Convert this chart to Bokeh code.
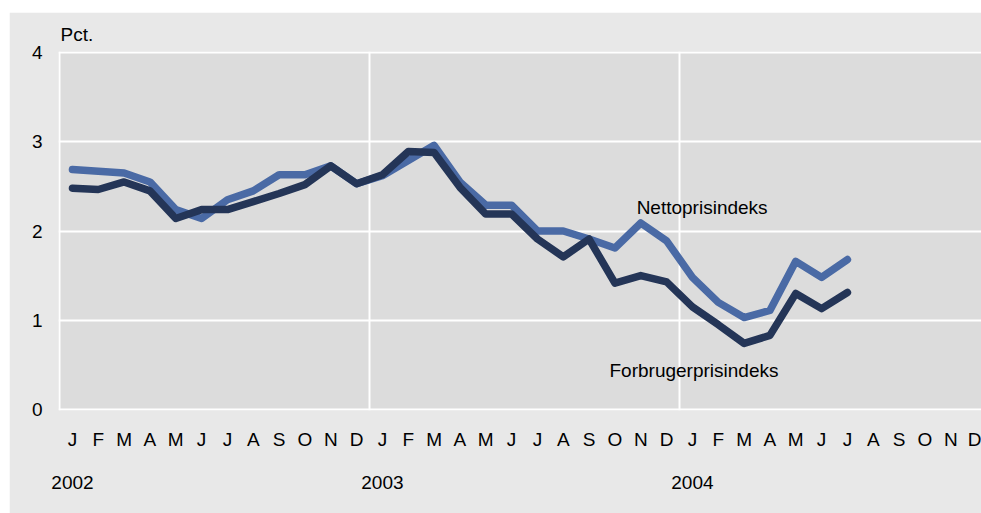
from bokeh.plotting import figure
from bokeh.models import FixedTicker, LinearAxis, Label, Range1d, Spacer, Title
from bokeh.layouts import column, row
from bokeh.embed import file_html
from bokeh.resources import INLINE

month_labels = ["J", "F", "M", "A", "M", "J", "J", "A", "S", "O", "N", "D"] * 3
years = ["2002", "2003", "2004"]
nettoprisindeks = [2.69, 2.67, 2.65, 2.55, 2.24, 2.14, 2.35, 2.45, 2.63, 2.63, 2.73, 2.53,
                   2.62, 2.79, 2.96, 2.55, 2.29, 2.29, 2.00, 2.00, 1.91, 1.81, 2.09, 1.89,
                   1.48, 1.20, 1.03, 1.11, 1.66, 1.48, 1.68]
forbrugerprisindeks = [2.48, 2.465, 2.55, 2.45, 2.14, 2.24, 2.24, 2.33, 2.42, 2.52, 2.73, 2.53,
                       2.63, 2.89, 2.88, 2.49, 2.19, 2.19, 1.91, 1.71, 1.91, 1.415, 1.50, 1.43,
                       1.15, 0.95, 0.74, 0.83, 1.30, 1.13, 1.31]
y_ticks = [0, 1, 2, 3, 4]

FONT = "Liberation Sans"
FS = "19px"
BLUE = "#4a6aa5"
DARK = "#243557"

x_pos = [i + 0.5 for i in range(len(nettoprisindeks))]

p = figure(width=972, height=501, output_backend="svg", toolbar_location=None,
           x_range=Range1d(-0.04, 35.69), y_range=Range1d(-0.012, 4.012),
           min_border_left=49, min_border_right=0, min_border_top=39, min_border_bottom=103)
p.border_fill_color = "#e8e8e8"
p.background_fill_color = "#dcdcdc"
p.outline_line_color = None

p.title = Title(text="Pct.", align="left", text_font=FONT, text_font_size=FS,
                text_font_style="normal", text_color="black", standoff=13, offset=2)

# grids
p.xgrid.ticker = FixedTicker(ticks=[0, 12, 24, 36])
p.ygrid.ticker = FixedTicker(ticks=y_ticks)
for g in (p.xgrid, p.ygrid):
    g.grid_line_color = "white"
    g.grid_line_width = 2


def style_axis(ax, standoff):
    ax.axis_line_color = None
    ax.major_tick_line_color = None
    ax.minor_tick_line_color = None
    ax.major_tick_out = 0
    ax.major_tick_in = 0
    ax.minor_tick_out = 0
    ax.minor_tick_in = 0
    ax.major_label_standoff = standoff
    ax.major_label_text_font = FONT
    ax.major_label_text_font_size = FS
    ax.major_label_text_color = "black"


# month axis
xa = p.xaxis[0]
xa.ticker = FixedTicker(ticks=[i + 0.5 for i in range(36)])
xa.major_label_overrides = {i + 0.5: m for i, m in enumerate(month_labels)}
style_axis(xa, 18)

# year axis
yr = LinearAxis(ticker=FixedTicker(ticks=[0.5, 12.5, 24.5]),
                major_label_overrides={0.5: years[0], 12.5: years[1], 24.5: years[2]})
style_axis(yr, 23)
p.add_layout(yr, "below")

# y axis
ya = p.yaxis[0]
ya.ticker = FixedTicker(ticks=y_ticks)
style_axis(ya, 16)

p.line(x_pos, nettoprisindeks, line_color=BLUE, line_width=7.5, line_join="round", line_cap="round")
p.line(x_pos, forbrugerprisindeks, line_color=DARK, line_width=7.5, line_join="round", line_cap="round")

for txt, x, y in [("Nettoprisindeks", 22.34, 2.26), ("Forbrugerprisindeks", 21.29, 0.44)]:
    p.add_layout(Label(x=x, y=y, text=txt, text_font=FONT, text_font_size=FS,
                       text_baseline="middle", text_align="left", text_color="black"))

layout = row(Spacer(width=9), column(Spacer(height=12), p))
open("out.html", "w").write(file_html(layout, INLINE))
